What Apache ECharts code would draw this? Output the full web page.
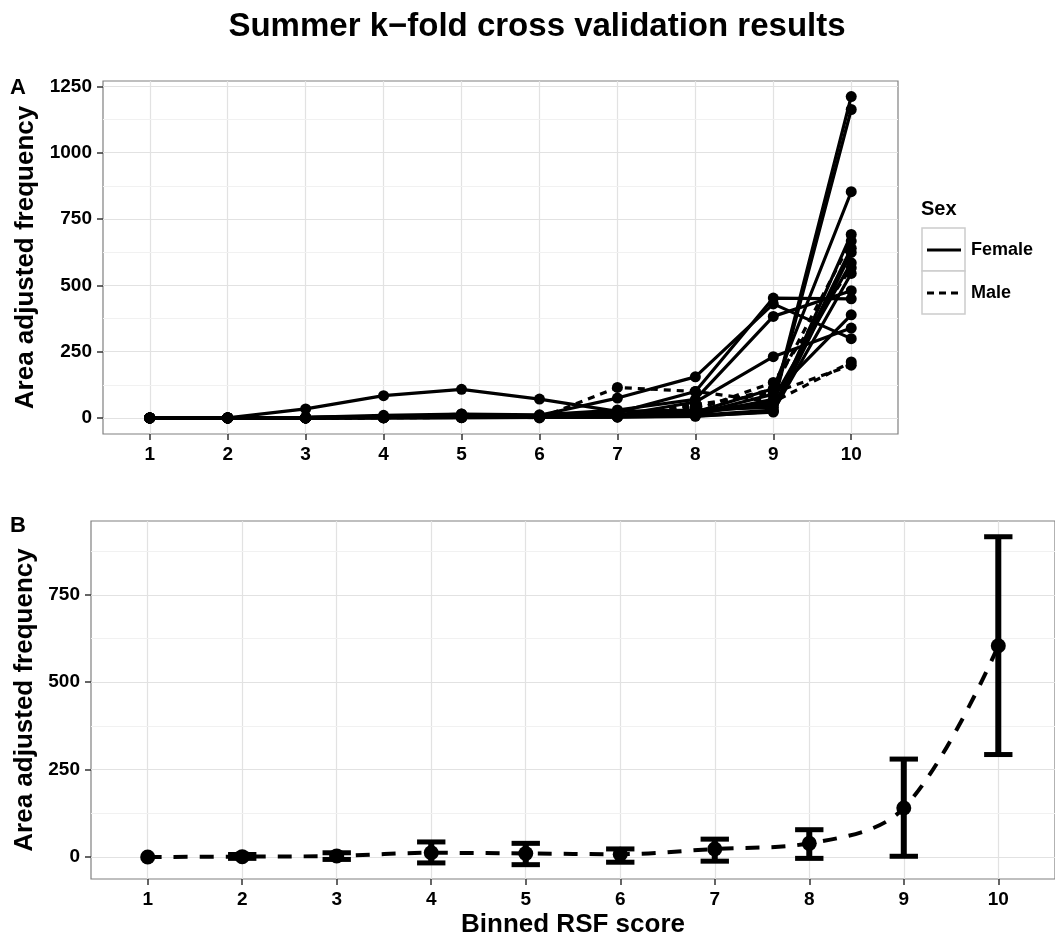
<!DOCTYPE html>
<html>
<head>
<meta charset="utf-8">
<script src="https://cdn.jsdelivr.net/npm/echarts@6/dist/echarts.min.js"></script>
<style>
  html, body { margin: 0; padding: 0; background: #fff; }
  #chart { width: 1055px; height: 939px; }
</style>
</head>
<body>
<div id="chart"></div>
<script>
// Binned RSF score (x) for every fold
const binScores = [1, 2, 3, 4, 5, 6, 7, 8, 9, 10];

// Panel A: area adjusted frequency per fold, females (solid)
const female01 = [0, 0, 34, 84, 108, 71, 25, 30, 40, 640];
const female02 = [0, 1, 2, 5, 8, 10, 75, 155, 430, 299];
const female03 = [0, 0, 1, 3, 5, 8, 20, 100, 452, 449];
const female04 = [0, 0, 2, 10, 15, 12, 30, 70, 383, 480];
const female05 = [0, 0, 0, 2, 3, 5, 10, 60, 231, 339];
const female06 = [0, 0, 1, 4, 6, 8, 12, 25, 60, 1212];
const female07 = [0, 0, 0, 2, 4, 6, 8, 20, 50, 1163];
const female08 = [0, 0, 1, 3, 4, 5, 10, 22, 110, 853];
const female09 = [0, 0, 0, 1, 2, 3, 5, 10, 30, 692];
const female10 = [0, 0, 0, 1, 1, 2, 4, 8, 22, 624];
const female11 = [0, 1, 1, 2, 3, 4, 6, 12, 70, 585];
const female12 = [0, 0, 0, 0, 1, 2, 3, 6, 25, 545];
const female13 = [0, 0, 0, 1, 2, 3, 5, 15, 90, 389];
// Panel A: males (dashed)
const male01 = [0, 0, 0, 1, 15, 0, 115, 100, 60, 211];
const male02 = [0, 0, 0, 2, 3, 5, 10, 50, 95, 199];
const male03 = [0, 0, 1, 3, 5, 6, 15, 40, 108, 667];
const male04 = [0, 0, 0, 1, 2, 3, 8, 30, 134, 566];

// Panel B: mean and error bar limits per bin (null = no bar)
const meanFreq  = [0, 1, 3, 12, 10, 8, 23, 39, 140, 604];
const lowerFreq = [null, -4, -7, -17, -22, -15, -12, -4, 2, 293];
const upperFreq = [null, 7, 12, 43, 39, 23, 51, 78, 280, 916];

// Tick positions and grid lines
const xTickValues = [1, 2, 3, 4, 5, 6, 7, 8, 9, 10];
const yTicksTop = [0, 250, 500, 750, 1000, 1250];
const yMinorTop = [125, 375, 625, 875, 1125];
const yTicksBottom = [0, 250, 500, 750];
const yMinorBottom = [125, 375, 625, 875];

const FONT = '"Liberation Sans", Arial, Helvetica, sans-serif';
const MAJOR = '#e2e2e2';
const MINOR = '#f1f1f1';

const femaleLines = [female01, female02, female03, female04, female05, female06, female07,
  female08, female09, female10, female11, female12, female13];
const maleLines = [male01, male02, male03, male04];

function pairs(vals) {
  return binScores.map((x, i) => [x, vals[i]]);
}

function foldSeries(vals, dashed) {
  return {
    type: 'line', xAxisIndex: 0, yAxisIndex: 0, z: 3,
    data: pairs(vals),
    symbol: 'circle', symbolSize: 11,
    itemStyle: { color: '#000', borderWidth: 0, opacity: 1 },
    lineStyle: { color: '#000', width: 3.2, type: dashed ? [7, 6] : 'solid', cap: 'butt' },
    emphasis: { disabled: true },
    animation: false
  };
}

// Minor horizontal grid lines drawn through the axis scale, kept below the data
function minorLines(idx, values) {
  return {
    type: 'line', xAxisIndex: idx, yAxisIndex: idx, data: [], z: 1,
    silent: true, animation: false,
    markLine: {
      z: 1, silent: true, symbol: 'none', animation: false,
      label: { show: false },
      emphasis: { disabled: true },
      lineStyle: { color: MINOR, width: 1.2, type: 'solid' },
      data: values.map(v => ({ yAxis: v }))
    }
  };
}

const tickStyle = { color: '#333', width: 1.5 };
const tickLabel = {
  fontSize: 19, fontWeight: 'bold', color: '#000', fontFamily: FONT, margin: 11,
  formatter: v => String(v)
};
const axisTitle = { fontSize: 26, fontWeight: 'bold', color: '#000', fontFamily: FONT };
const majorGrid = { show: true, lineStyle: { color: MAJOR, width: 1.2 } };

function xAxisFor(idx, extra) {
  return Object.assign({
    gridIndex: idx, type: 'value', min: 0.4, max: 10.6,
    splitLine: majorGrid,
    axisLine: { show: false, onZero: false },
    axisTick: { show: true, customValues: xTickValues, length: 6, lineStyle: tickStyle },
    axisLabel: Object.assign({ customValues: xTickValues }, tickLabel)
  }, extra || {});
}

function yAxisFor(idx, min, max, ticks, gap) {
  return {
    gridIndex: idx, type: 'value', min: min, max: max,
    splitLine: majorGrid,
    axisLine: { show: false, onZero: false },
    axisTick: { show: true, customValues: ticks, length: 6, lineStyle: tickStyle },
    axisLabel: Object.assign({ customValues: ticks }, tickLabel),
    name: 'Area adjusted frequency', nameLocation: 'middle', nameGap: gap,
    nameTextStyle: axisTitle
  };
}

const errorBarData = binScores
  .map((x, i) => [x, lowerFreq[i], upperFreq[i]])
  .filter(d => d[1] !== null);

const chart = echarts.init(document.getElementById('chart'), null, { renderer: 'canvas' });

chart.setOption({
  backgroundColor: '#fff',
  animation: false,
  grid: [
    { left: 103, right: 157, top: 81, bottom: 505, show: true, borderColor: '#808080', borderWidth: 1.2, backgroundColor: '#fff' },
    { left: 91, right: -6, top: 521, bottom: 58, show: true, borderColor: '#808080', borderWidth: 1.2, backgroundColor: '#fff' }
  ],
  xAxis: [
    xAxisFor(0),
    xAxisFor(1, { name: 'Binned RSF score', nameLocation: 'middle', nameGap: 33, nameTextStyle: axisTitle })
  ],
  yAxis: [
    yAxisFor(0, -60.5, 1270.5, yTicksTop, 50),
    yAxisFor(1, -63, 961, yTicksBottom, 42)
  ],
  series: [
    minorLines(0, yMinorTop),
    minorLines(1, yMinorBottom),
    ...femaleLines.map(v => foldSeries(v, false)),
    ...maleLines.map(v => foldSeries(v, true)),
    {
      type: 'line', xAxisIndex: 1, yAxisIndex: 1, z: 3,
      data: pairs(meanFreq), smooth: 0.35,
      symbol: 'none',
      lineStyle: { color: '#000', width: 4, type: [14, 12], cap: 'butt' },
      emphasis: { disabled: true }
    },
    {
      type: 'custom', xAxisIndex: 1, yAxisIndex: 1, z: 4,
      data: errorBarData,
      renderItem: function (params, api) {
        const x = api.value(0);
        const lo = api.coord([x, api.value(1)]);
        const hi = api.coord([x, api.value(2)]);
        const half = api.size([0.3, 0])[0] / 2;
        const bar = { stroke: '#000', lineWidth: 6, lineCap: 'butt' };
        const cap = { stroke: '#000', lineWidth: 5, lineCap: 'butt' };
        return {
          type: 'group',
          children: [
            { type: 'line', shape: { x1: lo[0], y1: lo[1], x2: hi[0], y2: hi[1] }, style: bar },
            { type: 'line', shape: { x1: lo[0] - half, y1: lo[1], x2: lo[0] + half, y2: lo[1] }, style: cap },
            { type: 'line', shape: { x1: hi[0] - half, y1: hi[1], x2: hi[0] + half, y2: hi[1] }, style: cap }
          ]
        };
      }
    },
    {
      type: 'scatter', xAxisIndex: 1, yAxisIndex: 1, z: 5,
      data: pairs(meanFreq), symbol: 'circle', symbolSize: 15,
      itemStyle: { color: '#000', opacity: 1, borderWidth: 0 },
      emphasis: { disabled: true }
    }
  ],
  graphic: [
    { type: 'text', x: 537, y: 10, style: { text: 'Summer k\u2212fold cross validation results', font: 'bold 33px ' + FONT, fill: '#000', textAlign: 'center', textVerticalAlign: 'top' } },
    { type: 'text', x: 10, y: 77, style: { text: 'A', font: 'bold 22px ' + FONT, fill: '#000' } },
    { type: 'text', x: 10, y: 515, style: { text: 'B', font: 'bold 22px ' + FONT, fill: '#000' } },
    // Legend for sex
    { type: 'text', x: 921, y: 199, style: { text: 'Sex', font: 'bold 20px ' + FONT, fill: '#000' } },
    { type: 'rect', shape: { x: 922, y: 228, width: 43, height: 43 }, style: { fill: '#fff', stroke: '#cccccc', lineWidth: 1.5 } },
    { type: 'rect', shape: { x: 922, y: 271, width: 43, height: 43 }, style: { fill: '#fff', stroke: '#cccccc', lineWidth: 1.5 } },
    { type: 'line', shape: { x1: 927, y1: 250, x2: 961, y2: 250 }, style: { stroke: '#000', lineWidth: 3 } },
    { type: 'line', shape: { x1: 927, y1: 293, x2: 961, y2: 293 }, style: { stroke: '#000', lineWidth: 3, lineDash: [7, 5] } },
    { type: 'text', x: 971, y: 250, style: { text: 'Female', font: 'bold 18px ' + FONT, fill: '#000', textVerticalAlign: 'middle' } },
    { type: 'text', x: 971, y: 293, style: { text: 'Male', font: 'bold 18px ' + FONT, fill: '#000', textVerticalAlign: 'middle' } }
  ]
});
</script>
</body>
</html>
